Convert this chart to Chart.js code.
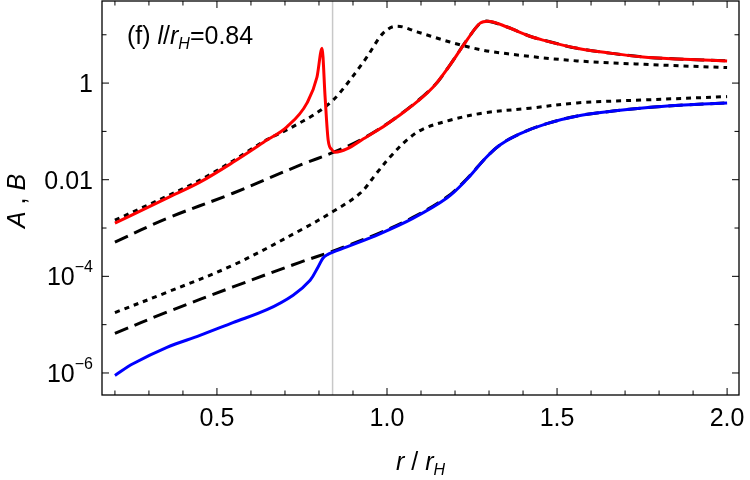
<!DOCTYPE html>
<html>
<head>
<meta charset="utf-8">
<script src="https://cdn.jsdelivr.net/npm/chart.js@4.4.0/dist/chart.umd.min.js"></script>
<style>
  html, body { margin: 0; padding: 0; background: #fff; }
  #wrap { width: 750px; height: 480px; }
</style>
</head>
<body>
<div id="wrap"><canvas id="plot" width="750" height="480"></canvas></div>
<script>
// values (x = r / r_H, y = A or B)
const redX = [0.20, 0.353, 0.45, 0.547, 0.647, 0.705, 0.765, 0.794, 0.809, 0.818, 0.827, 0.838, 0.847, 0.941, 1.038, 1.136, 1.185, 1.235, 1.274, 1.297, 1.353, 1.42, 1.459, 1.559, 1.656, 1.753, 1.853, 2.0];
const redY = [1.26e-3, 4.17e-3, 8.9e-3, 2.29e-2, 6.6e-2, 0.123, 0.389, 1.32, 5.25, 0.513, 0.066, 0.0417, 0.0372, 0.0776, 0.219, 0.832, 2.34, 7.76, 17.4, 19.1, 14.5, 9.33, 7.76, 5.25, 4.17, 3.47, 3.16, 2.88];

const blueX = [0.20, 0.253, 0.353, 0.45, 0.547, 0.647, 0.724, 0.774, 0.797, 0.812, 0.825, 0.841, 0.882, 0.979, 1.076, 1.176, 1.235, 1.29, 1.332, 1.39, 1.47, 1.56, 1.665, 1.76, 1.86, 2.0];
const blueY = [8.91e-7, 1.55e-6, 3.39e-6, 6.0e-6, 1.10e-5, 2.04e-5, 4.07e-5, 8.32e-5, 1.55e-4, 2.40e-4, 2.82e-4, 3.16e-4, 4.07e-4, 7.59e-4, 1.58e-3, 4.17e-3, 0.0102, 0.0282, 0.0525, 0.0891, 0.145, 0.209, 0.263, 0.309, 0.347, 0.389];

const dashedUpperX = [0.20, 0.353, 0.547, 0.744, 0.847, 0.941, 1.038, 1.136, 1.185, 1.235, 1.274, 1.297, 1.353, 1.42, 1.459, 1.559, 1.656, 1.753, 1.853, 2.0];
const dashedUpperY = [5.13e-4, 1.58e-3, 5.25e-3, 0.020, 0.0380, 0.0790, 0.222, 0.84, 2.36, 7.8, 17.4, 19.1, 14.5, 9.33, 7.76, 5.25, 4.17, 3.47, 3.16, 2.88];

const dashedLowerX = [0.20, 0.353, 0.547, 0.744, 0.841, 0.882, 0.979, 1.076, 1.176, 1.235, 1.29, 1.332, 1.39, 1.47, 1.56, 1.665, 1.76, 1.86, 2.0];
const dashedLowerY = [6.61e-6, 1.82e-5, 6.03e-5, 1.95e-4, 3.31e-4, 4.27e-4, 7.94e-4, 1.66e-3, 4.37e-3, 0.0105, 0.0282, 0.0525, 0.0891, 0.145, 0.209, 0.263, 0.309, 0.347, 0.389];

const dottedUpperX = [0.20, 0.353, 0.45, 0.547, 0.647, 0.705, 0.744, 0.784, 0.842, 0.891, 0.941, 0.988, 1.029, 1.088, 1.185, 1.283, 1.362, 1.559, 1.753, 2.0];
const dottedUpperY = [1.45e-3, 4.57e-3, 9.77e-3, 0.0245, 0.0676, 0.107, 0.151, 0.219, 0.447, 1.15, 3.47, 10.7, 15.1, 11.5, 7.08, 4.79, 3.98, 2.88, 2.45, 2.09];

const dottedLowerX = [0.20, 0.353, 0.547, 0.744, 0.841, 0.921, 0.97, 1.009, 1.058, 1.106, 1.185, 1.283, 1.42, 1.559, 1.753, 2.0];
const dottedLowerY = [1.78e-5, 4.68e-5, 1.70e-4, 8.91e-4, 2.19e-3, 5.25e-3, 0.0138, 0.0295, 0.0661, 0.112, 0.170, 0.240, 0.302, 0.389, 0.447, 0.525];

// axes
const xMajorTicks = [0.5, 1.0, 1.5, 2.0];
const xMajorLabels = ['0.5', '1.0', '1.5', '2.0'];
const xMinorTicks = [0.2, 0.3, 0.4, 0.6, 0.7, 0.8, 0.9, 1.1, 1.2, 1.3, 1.4, 1.6, 1.7, 1.8, 1.9];
const yMajorTicks = [1e-6, 1e-4, 1e-2, 1];
const yMajorLabels = [['10', '\u22126'], ['10', '\u22124'], ['0.01', ''], ['1', '']];
const yMinorTicks = [1e-5, 1e-3, 1e-1, 10];
const markerX = 0.84; // l / r_H

const FONT = "'Liberation Sans', Arial, sans-serif";

function pts(xs, ys) {
    return xs.map((x, i) => ({ x: x, y: ys[i] }));
}

function curve(xs, ys, color, dash, monotone) {
    return {
        data: pts(xs, ys),
        borderColor: color,
        borderWidth: 3,
        borderDash: dash,
        borderCapStyle: 'butt',
        pointRadius: 0,
        fill: false,
        tension: 0.35,
        cubicInterpolationMode: monotone ? 'monotone' : 'default'
    };
}

// text made of pieces: [text, size, italic, dy]
function drawPieces(ctx, pieces, x, y) {
    let cx = x;
    pieces.forEach(p => {
        ctx.font = (p[2] ? 'italic ' : '') + p[1] + 'px ' + FONT;
        ctx.fillText(p[0], cx, y + (p[3] || 0));
        cx += ctx.measureText(p[0]).width;
    });
    return cx;
}
function piecesWidth(ctx, pieces) {
    let w = 0;
    pieces.forEach(p => {
        ctx.font = (p[2] ? 'italic ' : '') + p[1] + 'px ' + FONT;
        w += ctx.measureText(p[0]).width;
    });
    return w;
}

const framePlugin = {
    id: 'frame',
    beforeDatasetsDraw(chart) {
        const { ctx, chartArea: a, scales: { x } } = chart;
        const px = x.getPixelForValue(markerX);
        ctx.save();
        ctx.strokeStyle = '#c8c8c8';
        ctx.lineWidth = 1.5;
        ctx.beginPath();
        ctx.moveTo(px, a.top);
        ctx.lineTo(px, a.bottom);
        ctx.stroke();
        ctx.restore();
    },
    afterDraw(chart) {
        const { ctx, chartArea: a, scales: { x, y } } = chart;
        ctx.save();
        ctx.strokeStyle = '#000';
        ctx.fillStyle = '#000';
        ctx.lineWidth = 1.3;
        ctx.strokeRect(a.left, a.top, a.right - a.left, a.bottom - a.top);

        // ticks on all four sides, pointing inward
        ctx.lineWidth = 1;
        const xt = (v, len) => {
            const p = x.getPixelForValue(v);
            ctx.beginPath();
            ctx.moveTo(p, a.bottom); ctx.lineTo(p, a.bottom - len);
            ctx.moveTo(p, a.top); ctx.lineTo(p, a.top + len);
            ctx.stroke();
        };
        const yt = (v, len) => {
            const p = y.getPixelForValue(v);
            ctx.beginPath();
            ctx.moveTo(a.left, p); ctx.lineTo(a.left + len, p);
            ctx.moveTo(a.right, p); ctx.lineTo(a.right - len, p);
            ctx.stroke();
        };
        xMajorTicks.forEach(v => xt(v, 7));
        xMinorTicks.forEach(v => xt(v, 4.5));
        yMajorTicks.forEach(v => yt(v, 7));
        yMinorTicks.forEach(v => yt(v, 4.5));

        // x tick labels
        ctx.font = '25px ' + FONT;
        ctx.textAlign = 'center';
        ctx.textBaseline = 'alphabetic';
        xMajorTicks.forEach((v, i) => {
            ctx.fillText(xMajorLabels[i], x.getPixelForValue(v), a.bottom + 31);
        });

        // y tick labels (base + superscript), right aligned
        ctx.textAlign = 'left';
        yMajorTicks.forEach((v, i) => {
            const p = y.getPixelForValue(v);
            const [base, sup] = yMajorLabels[i];
            ctx.font = '25px ' + FONT;
            const wb = ctx.measureText(base).width;
            ctx.font = '16px ' + FONT;
            const ws = sup ? ctx.measureText(sup).width : 0;
            const right = a.left - 9;
            ctx.font = '25px ' + FONT;
            ctx.fillText(base, right - wb - ws, p + 9);
            if (sup) {
                ctx.font = '16px ' + FONT;
                ctx.fillText(sup, right - ws, p - 4);
            }
        });

        // x axis title: r / r_H
        const xTitle = [['r', 25, true], [' / ', 25, false], ['r', 25, true], ['H', 16, true, 5]];
        const cx = (a.left + a.right) / 2;
        drawPieces(ctx, xTitle, cx - piecesWidth(ctx, xTitle) / 2, 470);

        // y axis title: A , B
        const yTitle = [['A', 25, true], [' , ', 25, false], ['B', 25, true]];
        ctx.save();
        ctx.translate(25, (a.top + a.bottom) / 2 + 3);
        ctx.rotate(-Math.PI / 2);
        drawPieces(ctx, yTitle, -piecesWidth(ctx, yTitle) / 2, 0);
        ctx.restore();

        // panel label: (f) l/r_H=0.84
        const label = [['(f) ', 25, false], ['l', 25, true], ['/', 25, false], ['r', 25, true], ['H', 16, true, 5], ['=0.84', 25, false]];
        drawPieces(ctx, label, a.left + 25, 44);
        ctx.restore();
    }
};

const chart = new Chart(document.getElementById('plot'), {
    type: 'line',
    data: {
        datasets: [
            curve(redX, redY, '#ff0000', [], true),
            curve(blueX, blueY, '#0000ff', [], false),
            curve(dashedUpperX, dashedUpperY, '#000', [14, 7], false),
            curve(dashedLowerX, dashedLowerY, '#000', [14, 7], false),
            curve(dottedUpperX, dottedUpperY, '#000', [5, 5], true),
            curve(dottedLowerX, dottedLowerY, '#000', [5, 5], false)
        ]
    },
    options: {
        responsive: false,
        animation: false,
        devicePixelRatio: 1,
        layout: { padding: { left: 102, top: 1, right: 11, bottom: 85 } },
        plugins: { legend: { display: false }, tooltip: { enabled: false } },
        scales: {
            x: { type: 'linear', min: 0.162, max: 2.035, display: false },
            y: { type: 'logarithmic', min: 3.5e-7, max: 50, display: false }
        }
    },
    plugins: [framePlugin]
});
</script>
</body>
</html>
